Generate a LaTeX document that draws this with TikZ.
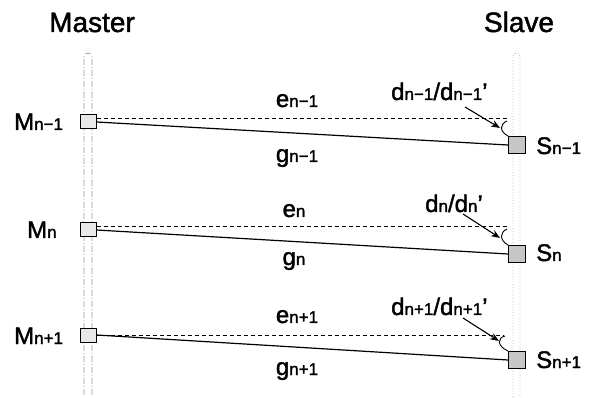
\documentclass[tikz,border=0pt]{standalone}
\usepackage{fontspec}
\setmainfont{Liberation Sans}[FakeBold=1.6]
\usetikzlibrary{arrows.meta}
\newcommand{\sbs}[1]{{\fontsize{17}{17}\selectfont #1}}
\begin{document}
\begin{tikzpicture}[x=1pt,y=-1pt,
  txt/.style={inner sep=0pt,font=\fontsize{24}{24}\selectfont},
  ttl/.style={inner sep=0pt,font=\fontsize{28}{28}\selectfont},
  mbox/.style={draw=black,line width=1pt,fill=gray!18,minimum width=16pt,minimum height=14pt,inner sep=0pt},
  sbox/.style={draw=black,line width=1pt,fill=gray!45,minimum width=17pt,minimum height=17pt,inner sep=0pt},
  sig/.style={line width=1.2pt},
  ref/.style={line width=1pt,dash pattern=on 4pt off 3pt},
  ptr/.style={line width=1.1pt,-{Stealth[length=9pt,width=7pt]}},
  angmark/.style={line width=0.9pt}]
\useasboundingbox (0,0) rectangle (592,398);
% lifelines
\draw[gray!80,line width=0.7pt,dash pattern=on 6pt off 2pt on 1pt off 2pt,rounded corners=4pt] (84,395) -- (84,53) -- (92,53) -- (92,395);
\draw[gray!60,line width=0.8pt,dotted,rounded corners=3.5pt] (513,397) -- (513,53) -- (520,53) -- (520,397);
% titles
\node[ttl,anchor=base] (master) at (92,32) {Master};
\node[ttl,anchor=base] (slave) at (519,32) {Slave};
% boxes
\node[mbox] (M1) at (88,122) {};
\node[mbox] (M2) at (88,230) {};
\node[mbox] (M3) at (88,335) {};
\node[sbox] (S1) at (517,145) {};
\node[sbox] (S2) at (517,254) {};
\node[sbox] (S3) at (517,360) {};
% labels of boxes
\node[txt,anchor=base west] (lM1) at (14,130) {M\sbs{n−1}};
\node[txt,anchor=base west] (lM2) at (27,238) {M\sbs{n}};
\node[txt,anchor=base west] (lM3) at (14,344) {M\sbs{n+1}};
\node[txt,anchor=base west] (lS1) at (536,154) {S\sbs{n−1}};
\node[txt,anchor=base west] (lS2) at (536,261) {S\sbs{n}};
\node[txt,anchor=base west] (lS3) at (536,368) {S\sbs{n+1}};
% dashed reference lines
\coordinate (E1) at (508,119);
\coordinate (E2) at (508,227);
\coordinate (E3) at (504,335);
\draw[ref] (M1.east |- 0,119) -- (E1);
\draw[ref] (M2.east |- 0,227) -- (E2);
\draw[ref] (M3.east |- 0,335) -- (E3);
% solid signal lines
\draw[sig] (M1.east) -- (S1.west);
\draw[sig] (M2.east) -- (S2.west);
\draw[sig] (M3.east) -- (S3.west);
% e and g labels
\node[txt,anchor=base] (e1) at (297,107) {e\sbs{n−1}};
\node[txt,anchor=base] (g1) at (297,162) {g\sbs{n−1}};
\node[txt,anchor=base] (e2) at (294,217) {e\sbs{n}};
\node[txt,anchor=base] (g2) at (294,265) {g\sbs{n}};
\node[txt,anchor=base] (e3) at (297,323) {e\sbs{n+1}};
\node[txt,anchor=base] (g3) at (297,375) {g\sbs{n+1}};
% d labels
\node[txt,anchor=base west] (d1) at (391,100) {d\sbs{n−1}/d\sbs{n−1}’};
\node[txt,anchor=base west] (d2) at (425,212) {d\sbs{n}/d\sbs{n}’};
\node[txt,anchor=base west] (d3) at (391,315) {d\sbs{n+1}/d\sbs{n+1}’};
% angle marks
\coordinate (A1) at (500,128);
\coordinate (A2) at (500,238);
\coordinate (A3) at (499,341);
\draw[angmark] (507,121) .. controls (500,124) and (499,131) .. (S1.north west);
\draw[angmark] (507,229) .. controls (500,232) and (499,240) .. (S2.north west);
\draw[angmark] (505,336) .. controls (497,338) and (497,346) .. (S3.north west);
% pointers
\draw[ptr] (465,107) -- (A1);
\draw[ptr] (463,214) -- (A2);
\draw[ptr] (463,318) -- (A3);
\end{tikzpicture}
\end{document}
